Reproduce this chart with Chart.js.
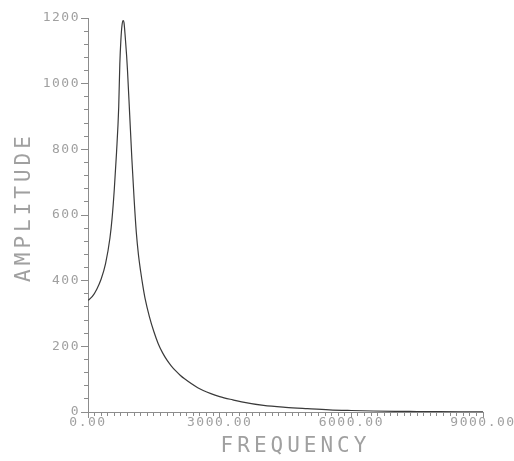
<!DOCTYPE html>
<html>
<head>
<meta charset="utf-8">
<script src="https://cdn.jsdelivr.net/npm/chart.js@4/dist/chart.umd.min.js"></script>
<style>
  html, body { margin: 0; padding: 0; background: #fff; overflow: hidden; }
  #wrap { width: 514px; height: 461px; }
</style>
</head>
<body>
<div id="wrap"><canvas id="c" width="514" height="461"></canvas></div>
<script>
// Frequency response: amplitude versus frequency
const frequency = [0, 100, 200, 300, 400, 500, 550, 600, 650, 700, 725, 750, 775, 800, 820, 850, 880, 900, 950,
  1000, 1050, 1100, 1150, 1200, 1250, 1300, 1400, 1500, 1600, 1700, 1800, 1900, 2000, 2100, 2200, 2500, 2800,
  3000, 3300, 3500, 4000, 4500, 5000, 5500, 6000, 6500, 7000, 7500, 8000, 8500, 9000];
const amplitude = [340, 352, 374, 405, 452, 530, 592, 680, 790, 930, 1060, 1135, 1178, 1192, 1186, 1140, 1085, 1040, 905,
  770, 650, 548, 478, 428, 384, 346, 290, 245, 208, 180, 158, 140, 125, 112, 101, 74, 56,
  47, 37, 31, 20, 14, 10, 6.5, 4.5, 3, 2, 1.5, 1, 0.7, 0.5];

const xRange = [0, 9000];
const yRange = [0, 1200];
const xMajorStep = 3000, xMinorStep = 150;
const yMajorStep = 200, yMinorStep = 40;
const xTitle = 'FREQUENCY';
const yTitle = 'AMPLITUDE';

const axisColor = '#8c8c8c';
const textColor = '#a0a0a0';
const mono = '"DejaVu Sans Mono", "Liberation Mono", monospace';

const points = frequency.map((f, i) => ({ x: f, y: amplitude[i] }));

// wide, plotter-like lettering for ticks and titles
const letteringPlugin = {
  id: 'lettering',
  beforeDraw(chart) {
    chart.ctx.letterSpacing = '1.5px';
  },
  afterDraw(chart) {
    const { ctx, chartArea } = chart;
    ctx.save();
    ctx.letterSpacing = '4px';
    ctx.fillStyle = textColor;
    ctx.font = '21px ' + mono;
    ctx.textAlign = 'center';
    ctx.textBaseline = 'middle';
    ctx.fillText(xTitle, (chartArea.left + chartArea.right) / 2 + 10, chartArea.bottom + 35);
    ctx.translate(25, (chartArea.top + chartArea.bottom) / 2 - 8);
    ctx.rotate(-Math.PI / 2);
    ctx.fillText(yTitle, 0, 0);
    ctx.restore();
  }
};

const minorAxis = (pos, range, step, len, sizeFn) => ({
  type: 'linear',
  position: pos,
  min: range[0],
  max: range[1],
  weight: 0,
  border: { display: true, color: axisColor, width: 1 },
  grid: { drawOnChartArea: false, drawTicks: true, tickLength: len, color: axisColor, tickWidth: 1 },
  ticks: { display: false, stepSize: step, maxTicksLimit: 1000, autoSkip: false },
  afterFit: sizeFn
});

new Chart(document.getElementById('c'), {
  type: 'scatter',
  data: {
    datasets: [{
      data: points,
      showLine: true,
      borderColor: '#3a3a3a',
      borderWidth: 1.2,
      pointRadius: 0,
      cubicInterpolationMode: 'monotone',
      xAxisID: 'x',
      yAxisID: 'y'
    }]
  },
  options: {
    responsive: false,
    animation: false,
    layout: { padding: { left: 0, right: 31, top: 18, bottom: 0 } },
    plugins: { legend: { display: false }, tooltip: { enabled: false } },
    scales: {
      x: {
        type: 'linear',
        position: 'bottom',
        min: xRange[0],
        max: xRange[1],
        weight: 1,
        border: { display: true, color: axisColor, width: 1 },
        grid: { drawOnChartArea: false, drawTicks: true, tickLength: 6, color: axisColor },
        ticks: {
          stepSize: xMajorStep,
          autoSkip: false,
          maxRotation: 0,
          padding: -3,
          color: textColor,
          font: { family: mono, size: 13 },
          callback: v => v.toFixed(2)
        },
        afterFit: s => { s.height = 49; s.paddingLeft = 0; s.paddingRight = 0; }
      },
      xm: minorAxis('bottom', xRange, xMinorStep, 4, s => { s.height = 0; s.paddingLeft = 0; s.paddingRight = 0; }),
      y: {
        type: 'linear',
        position: 'left',
        min: yRange[0],
        max: yRange[1],
        weight: 1,
        border: { display: true, color: axisColor, width: 1 },
        grid: { drawOnChartArea: false, drawTicks: true, tickLength: 7, color: axisColor },
        ticks: {
          stepSize: yMajorStep,
          autoSkip: false,
          padding: 1,
          color: textColor,
          font: { family: mono, size: 13 },
          callback: v => String(v)
        },
        afterFit: s => { s.width = 88; s.paddingTop = 0; s.paddingBottom = 0; }
      },
      ym: minorAxis('left', yRange, yMinorStep, 4, s => { s.width = 0; s.paddingTop = 0; s.paddingBottom = 0; })
    }
  },
  plugins: [letteringPlugin]
});
</script>
</body>
</html>
